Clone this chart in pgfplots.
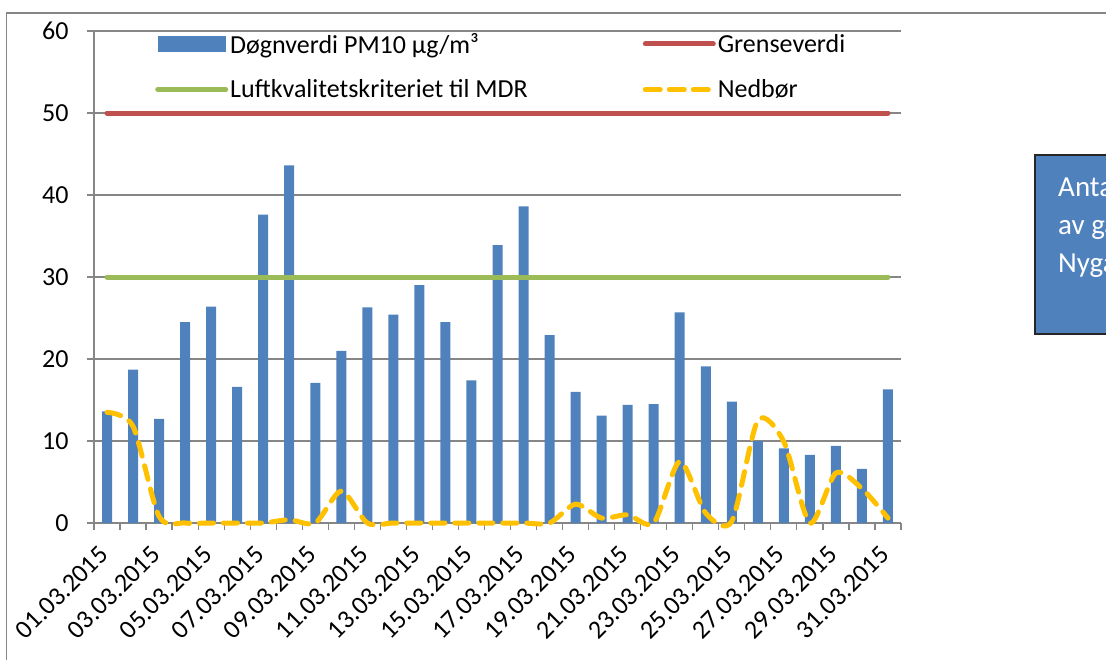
\documentclass[border=0pt]{standalone}
\usepackage{fontspec}
\setmainfont{Carlito}
\usepackage{pgfplots}
\usepackage{pgfplotstable}
\pgfplotsset{compat=1.18}
\definecolor{barblue}{HTML}{4F81BD}
\definecolor{limred}{HTML}{C0504D}
\definecolor{mdrgreen}{HTML}{9BBB59}
\definecolor{rainyellow}{HTML}{FFC000}
\definecolor{gridgray}{HTML}{868686}

\pgfplotstableread{
day pm rain
1 13.6 13.5
2 18.7 11.8
3 12.7 0.8
4 24.5 0
5 26.4 0
6 16.6 0
7 37.6 0
8 43.6 0.4
9 17.1 0
10 21.0 3.9
11 26.3 0
12 25.4 0
13 29.0 0
14 24.5 0
15 17.4 0
16 33.9 0
17 38.6 0
18 22.9 0
19 16.0 2.3
20 13.1 0.6
21 14.4 1.0
22 14.5 0
23 25.7 7.5
24 19.1 1.2
25 14.8 0.2
26 10.0 12.5
27 9.1 9.9
28 8.3 0
29 9.4 6.1
30 6.6 4.2
31 16.3 0.6
}\datatable

\begin{document}
\begin{tikzpicture}
\useasboundingbox (0pt,0pt) rectangle (1106pt,659pt);
\clip (0pt,0pt) rectangle (1106pt,659pt);
\draw[gridgray, line width=1.2pt] (6.5pt,-20pt) -- (6.5pt,646pt) -- (1130pt,646pt);
\draw[fill=barblue, draw=black!85, line width=1.2pt] (1035pt,325pt) rectangle (1160pt,504pt);
\node[anchor=base west, text=white, font=\fontsize{29}{34}\selectfont, inner sep=0pt] at (1058pt,462pt) {Antatt bidrag};
\node[anchor=base west, text=white, font=\fontsize{29}{34}\selectfont, inner sep=0pt] at (1058pt,424pt) {av gatestøv};
\node[anchor=base west, text=white, font=\fontsize{29}{34}\selectfont, inner sep=0pt] at (1058pt,386pt) {Nygårdsgaten};
\begin{axis}[
  at={(94pt,136pt)}, anchor=south west,
  scale only axis, width=807pt, height=492pt,
  xmin=0.5, xmax=31.5, ymin=0, ymax=60,
  clip=false,
  ytick={0,10,...,60},
  xtick={0.5,1.5,...,31.5},
  xticklabels={},
  extra x ticks={1,3,...,31},
  extra x tick labels={01.03.2015,03.03.2015,05.03.2015,07.03.2015,09.03.2015,11.03.2015,13.03.2015,15.03.2015,17.03.2015,19.03.2015,21.03.2015,23.03.2015,25.03.2015,27.03.2015,29.03.2015,31.03.2015},
  extra x tick style={major tick length=0pt, xticklabel style={xshift=-1pt, yshift=-25pt, rotate=45, anchor=east}},
  axis x line*=bottom, axis y line*=left,
  axis line style={gridgray, line width=1.2pt, -},
  ymajorgrids, grid style={gridgray, line width=1.2pt},
  tick style={gridgray, line width=1.2pt},
  tick align=outside,
  major tick length=7pt,
  ticklabel style={font=\fontsize{26}{31}\selectfont, text=black},
  yticklabel style={xshift=-15pt},
  /pgf/number format/assume math mode=true,
  legend columns=2,
  legend cell align=left,
  legend style={at={(0.0756,1)}, anchor=north west, draw=none, fill=none,
    font=\fontsize{26}{31}\selectfont, inner sep=0pt, row sep=21pt,
    /tikz/every even column/.append style={column sep=113pt}},
]
\addplot[ybar, bar width=10pt, fill=barblue, draw=none,
  legend image code/.code={\fill[barblue] (0pt,-8pt) rectangle (68pt,8pt);}]
  table[x=day, y=pm] {\datatable};
\addlegendentry{Døgnverdi PM10 µg/m³}
\addplot[limred, line width=5pt, line cap=round,
  legend image code/.code={\draw[limred, line width=5pt, line cap=round] (0pt,0pt) -- (68pt,0pt);}]
  coordinates {(1,50) (31,50)};
\addlegendentry{Grenseverdi}
\addplot[mdrgreen, line width=5pt, line cap=round,
  legend image code/.code={\draw[mdrgreen, line width=5pt, line cap=round] (0pt,0pt) -- (68pt,0pt);}]
  coordinates {(1,30) (31,30)};
\addlegendentry{Luftkvalitetskriteriet til MDR}
\addplot[rainyellow, line width=5pt, line cap=round, dash pattern=on 14pt off 10pt, smooth, tension=0.45,
  legend image code/.code={\draw[rainyellow, line width=5pt, line cap=round, dash pattern=on 15pt off 9pt] (0pt,0pt) -- (68pt,0pt);}]
  table[x=day, y=rain] {\datatable};
\addlegendentry{Nedbør}
\end{axis}
\end{tikzpicture}
\end{document}
